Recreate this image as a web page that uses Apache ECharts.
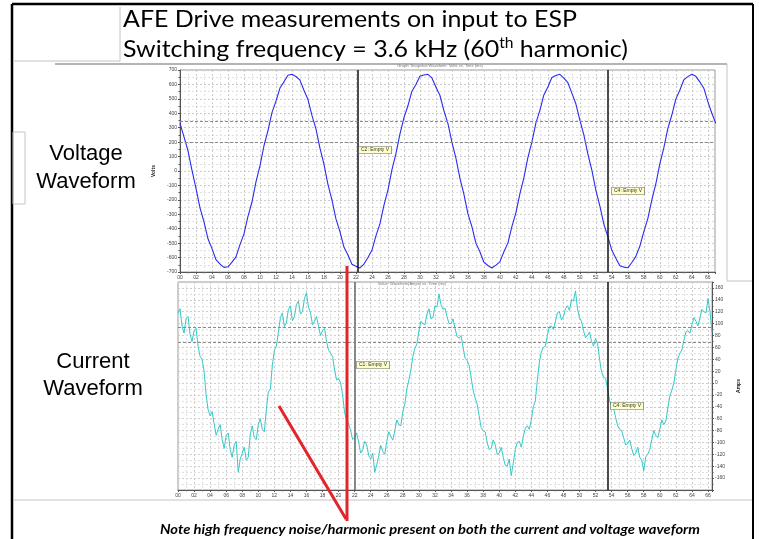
<!DOCTYPE html>
<html><head><meta charset="utf-8">
<script src="https://cdn.jsdelivr.net/npm/echarts@6/dist/echarts.min.js"></script>
<style>html,body{margin:0;padding:0;background:#fff}#c{width:759px;height:539px}</style>
</head><body><div id="c"></div>
<script>
// ---- data ----
const voltageStepMs = 0.5;    // sample spacing of the voltage trace (ms)
const currentStepMs = 0.25;   // sample spacing of the current trace (ms)
const titleLine1 = 'AFE Drive measurements on input to ESP';
const titleLine2a = 'Switching frequency = 3.6 kHz (60';
const titleLine2sup = 'th';
const titleLine2b = ' harmonic)';
const sideLabelVoltage = ['Voltage', 'Waveform'];
const sideLabelCurrent = ['Current', 'Waveform'];
const noteText = 'Note high frequency noise/harmonic present on both the current and voltage waveform';

const voltageVolts = [330,236,140,5,-120,-255,-352,-470,-538,-615,
 -645,-668,-664,-632,-595,-510,-436,-315,-215,-76,
 35,175,280,405,484,575,618,664,670,655,
 630,560,495,385,292,158,48,-92,-200,-332,
 -420,-527,-582,-646,-660,-672,-645,-600,-550,-450,
 -366,-238,-132,8,120,255,368,452,553,600,
 656,665,670,645,582,525,418,330,200,90,
 -50,-160,-296,-385,-500,-560,-632,-655,-672,-652,
 -630,-560,-500,-385,-290,-158,-48,92,200,332,
 420,527,582,648,662,670,644,612,540,466,
 352,250,118,6,-132,-242,-368,-455,-550,-604,
 -656,-666,-671,-634,-592,-522,-420,-330,-200,-90,
 50,160,294,388,498,560,632,654,670,656,
 618,574,482,400,330];

const currentAmps = [
 118,125,96,84,108,112,82,70,88,92,62,45,40,20,-20,-45,-55,-48,-68,-88,
 -78,-70,-95,-110,-88,-84,-112,-125,-104,-98,-150,-128,-118,-108,-130,-125,-86,-72,-92,-95,
 -70,-60,-78,-82,-45,-15,-10,30,55,62,85,110,118,95,102,124,130,105,112,132,
 138,116,120,142,152,128,118,98,104,112,95,80,88,92,70,55,50,45,22,5,
 8,0,-20,-50,-62,-68,-80,-95,-92,-84,-100,-118,-112,-98,-104,-122,-128,-118,-150,-138,
 -122,-105,-115,-120,-98,-82,-90,-96,-80,-62,-70,-72,-48,-35,-10,5,22,45,58,66,
 88,104,100,98,116,125,108,110,130,128,150,132,124,126,112,100,100,108,92,78,
 76,80,60,42,38,30,10,-12,-25,-35,-55,-75,-80,-82,-100,-112,-110,-96,-104,-120,
 -118,-108,-125,-138,-140,-128,-156,-135,-112,-100,-98,-108,-90,-76,-72,-78,-62,-40,-30,5,
 35,52,60,62,80,95,96,90,104,118,120,106,112,125,130,122,140,138,155,125,
 110,104,88,76,80,86,70,62,75,66,40,18,10,8,-10,-30,-40,-42,-58,-72,
 -78,-80,-92,-104,-102,-96,-110,-122,-118,-108,-125,-130,-148,-124,-120,-112,-95,-80,-88,-92,
 -78,-62,-70,-64,-42,-22,-12,0,22,42,50,56,72,86,88,84,98,110,104,96,
 110,124,120,118,142,120,85];

const voltageCursorsMs = [22.25, 53.5];
const voltageCursorLabels = ['C2: Empty V', 'C4: Empty V'];
const voltageRefLevels = [346, 200];
const currentCursorsMs = [22.05, 53.55];
const currentCursorLabels = ['C1: Empty V', 'C4: Empty V'];
const currentRefLevels = [94, 69];
const voltageHeader = 'Graph: Snapshot Waveform  Volts vs. Time (ms)';
const currentHeader = 'Value: Waveform(Amps) vs. Time (ms)';

// ---- build ----
const vPairs = voltageVolts.map((v, i) => [i * voltageStepMs, v]);
const cPairs = currentAmps.map((v, i) => [i * currentStepMs, v]);

const ctx = document.createElement('canvas').getContext('2d');
function mw(text, size, family, weight, style) {
  ctx.font = (style || 'normal') + ' ' + (weight || 'normal') + ' ' + size + 'px ' + family;
  return ctx.measureText(text).width;
}
const TF = 'Lato';
const tSize = 24, supSize = 15;
const s1 = 454 / mw(titleLine1, tSize, TF);
const w2a = mw(titleLine2a, tSize, TF), w2s = mw(titleLine2sup, supSize, TF), w2b = mw(titleLine2b, tSize, TF);
const s2 = 505 / (w2a + w2s + w2b);
const sN = 540 / mw(noteText, 13, TF, 'bold', 'italic');

const pad2 = v => (v < 10 ? '0' : '') + v;
const gridLine = {show: true, lineStyle: {color: '#cdcdcd', type: [2, 2], width: 1}};
const minorLine = {show: true, lineStyle: {color: '#e0e0e0', type: [2, 2], width: 1}};
const tinyLabel = {fontSize: 5, color: '#444', fontFamily: 'Liberation Sans'};

function xAx(gi, max) {
  return {type: 'value', gridIndex: gi, min: 0, max: max, interval: 2,
    axisLine: {show: true, onZero: false, lineStyle: {color: '#555', width: 1}},
    axisTick: {show: true, length: 2, lineStyle: {color: '#555'}},
    minorTick: {show: true, splitNumber: 2, length: 1.5, lineStyle: {color: '#777'}},
    axisLabel: Object.assign({margin: 3, formatter: pad2, showMaxLabel: false}, tinyLabel),
    splitLine: gridLine, minorSplitLine: minorLine};
}

function cursorMarks(xs, color0) {
  return xs.map((x, i) => ({xAxis: x, lineStyle: {color: i === 0 && color0 ? color0 : '#111', width: 1.5, type: 'solid'}}));
}
function refMarks(ys) {
  return ys.map(y => ({yAxis: y, lineStyle: {color: '#8a8a8a', width: 1, type: [3, 2]}}));
}

const graphics = [];
function L(x1, y1, x2, y2, stroke, w) {
  graphics.push({type: 'line', silent: true, z: 100, shape: {x1, y1, x2, y2}, style: {stroke, lineWidth: w, lineDash: null}});
}
function T(text, x, y, opts) {
  graphics.push(Object.assign({type: 'text', silent: true, z: 100, x, y, style: Object.assign({text, fill: '#000'}, opts.style)}, opts.el || {}));
}
// frames
L(12, 4, 12, 539, '#000', 2.5);
L(12, 4, 753, 4, '#000', 2.5);
L(753, 4, 753, 539, '#000', 2);
L(120, 7, 120, 61, '#c4c4c4', 1);
L(13, 61, 120, 61, '#c4c4c4', 1);
L(55, 64, 727, 64, '#b4b4b4', 2);
L(727, 64, 727, 281, '#c4c4c4', 1);
L(727, 281, 752, 281, '#c4c4c4', 1);
graphics.push({type: 'rect', silent: true, z: 100, shape: {x: 13, y: 132, width: 12, height: 72}, style: {fill: 'none', stroke: '#c4c4c4', lineWidth: 1}});
L(13, 500, 752, 500, '#c4c4c4', 1);

// titles
T(titleLine1, 123, 19, {el: {scaleX: s1}, style: {fontFamily: TF, fontSize: tSize, verticalAlign: 'middle', align: 'left'}});
T(titleLine2a, 123, 49, {el: {scaleX: s2}, style: {fontFamily: TF, fontSize: tSize, verticalAlign: 'middle', align: 'left'}});
T(titleLine2sup, 123 + w2a * s2, 43, {el: {scaleX: s2}, style: {fontFamily: TF, fontSize: supSize, verticalAlign: 'middle', align: 'left'}});
T(titleLine2b, 123 + (w2a + w2s) * s2, 49, {el: {scaleX: s2}, style: {fontFamily: TF, fontSize: tSize, verticalAlign: 'middle', align: 'left'}});

// side labels
const sideStyle = {fontFamily: 'Liberation Sans', fontSize: 22, align: 'center', verticalAlign: 'middle'};
T(sideLabelVoltage[0], 86, 154, {style: sideStyle});
T(sideLabelVoltage[1], 86, 182, {style: sideStyle});
T(sideLabelCurrent[0], 93, 362, {style: sideStyle});
T(sideLabelCurrent[1], 93, 389, {style: sideStyle});

// note
T(noteText, 160, 530, {el: {scaleX: sN}, style: {fontFamily: TF, fontSize: 13, fontWeight: 'bold', fontStyle: 'italic', verticalAlign: 'middle', align: 'left'}});

// tiny headers
T(voltageHeader, 440, 66, {style: {fontFamily: 'Liberation Sans', fontSize: 4, fill: '#777', align: 'center', verticalAlign: 'middle'}});
T(currentHeader, 412, 284, {style: {fontFamily: 'Liberation Sans', fontSize: 4, fill: '#777', align: 'center', verticalAlign: 'middle'}});

// cursor boxes
const boxStyle = {fontFamily: 'Liberation Sans', fontSize: 5, fill: '#333', backgroundColor: '#ffffcc', borderColor: '#666', borderWidth: 0.6, padding: [1, 2], align: 'left', verticalAlign: 'middle'};
T(voltageCursorLabels[0], 359, 150, {style: boxStyle});
T(voltageCursorLabels[1], 612, 191, {style: boxStyle});
T(currentCursorLabels[0], 357, 365, {style: boxStyle});
T(currentCursorLabels[1], 611, 406, {style: boxStyle});

// red annotation lines
L(347, 266, 347, 521, '#e3242b', 3);
L(279, 406, 346, 519, '#e3242b', 3);

const option = {
  animation: false,
  backgroundColor: '#fff',
  grid: [
    {left: 180, top: 70, width: 535, height: 202, show: true, borderColor: '#9a9a9a', borderWidth: 1},
    {left: 178, top: 282, width: 534, height: 208, show: true, borderColor: '#9a9a9a', borderWidth: 1}
  ],
  xAxis: [xAx(0, 66.9), xAx(1, 66.5)],
  yAxis: [
    {type: 'value', gridIndex: 0, min: -700, max: 700, interval: 100,
      name: 'Volts', nameLocation: 'middle', nameGap: 17, nameTextStyle: {fontSize: 5, fontWeight: 'bold', color: '#222'},
      axisLine: {show: true, onZero: false, lineStyle: {color: '#555'}},
      axisTick: {show: true, length: 2}, minorTick: {show: true, splitNumber: 2, length: 1.5},
      axisLabel: Object.assign({margin: 3}, tinyLabel),
      splitLine: gridLine, minorSplitLine: minorLine},
    {type: 'value', gridIndex: 1, position: 'right', min: -180, max: 170, interval: 20,
      name: 'Amps', nameLocation: 'middle', nameGap: 20, nameRotate: 90, nameTextStyle: {fontSize: 5, fontWeight: 'bold', color: '#222'},
      axisLine: {show: true, onZero: false, lineStyle: {color: '#555'}},
      axisTick: {show: true, length: 2}, minorTick: {show: true, splitNumber: 2, length: 1.5},
      axisLabel: Object.assign({margin: 3, showMinLabel: false, showMaxLabel: false}, tinyLabel),
      splitLine: gridLine, minorSplitLine: minorLine}
  ],
  series: [
    {type: 'line', xAxisIndex: 0, yAxisIndex: 0, data: vPairs, showSymbol: false, symbol: 'none',
      lineStyle: {color: '#2a2af0', width: 1.1},
      markLine: {silent: true, symbol: ['none', 'none'], label: {show: false},
        data: cursorMarks(voltageCursorsMs).concat(refMarks(voltageRefLevels))}},
    {type: 'line', xAxisIndex: 1, yAxisIndex: 1, data: cPairs, showSymbol: false, symbol: 'none',
      lineStyle: {color: '#35c9c9', width: 1},
      markLine: {silent: true, symbol: ['none', 'none'], label: {show: false},
        data: cursorMarks(currentCursorsMs, '#666').concat(refMarks(currentRefLevels))}}
  ],
  graphic: graphics
};
const chart = echarts.init(document.getElementById('c'), null, {renderer: 'canvas'});
chart.setOption(option);
</script>
</body></html>
